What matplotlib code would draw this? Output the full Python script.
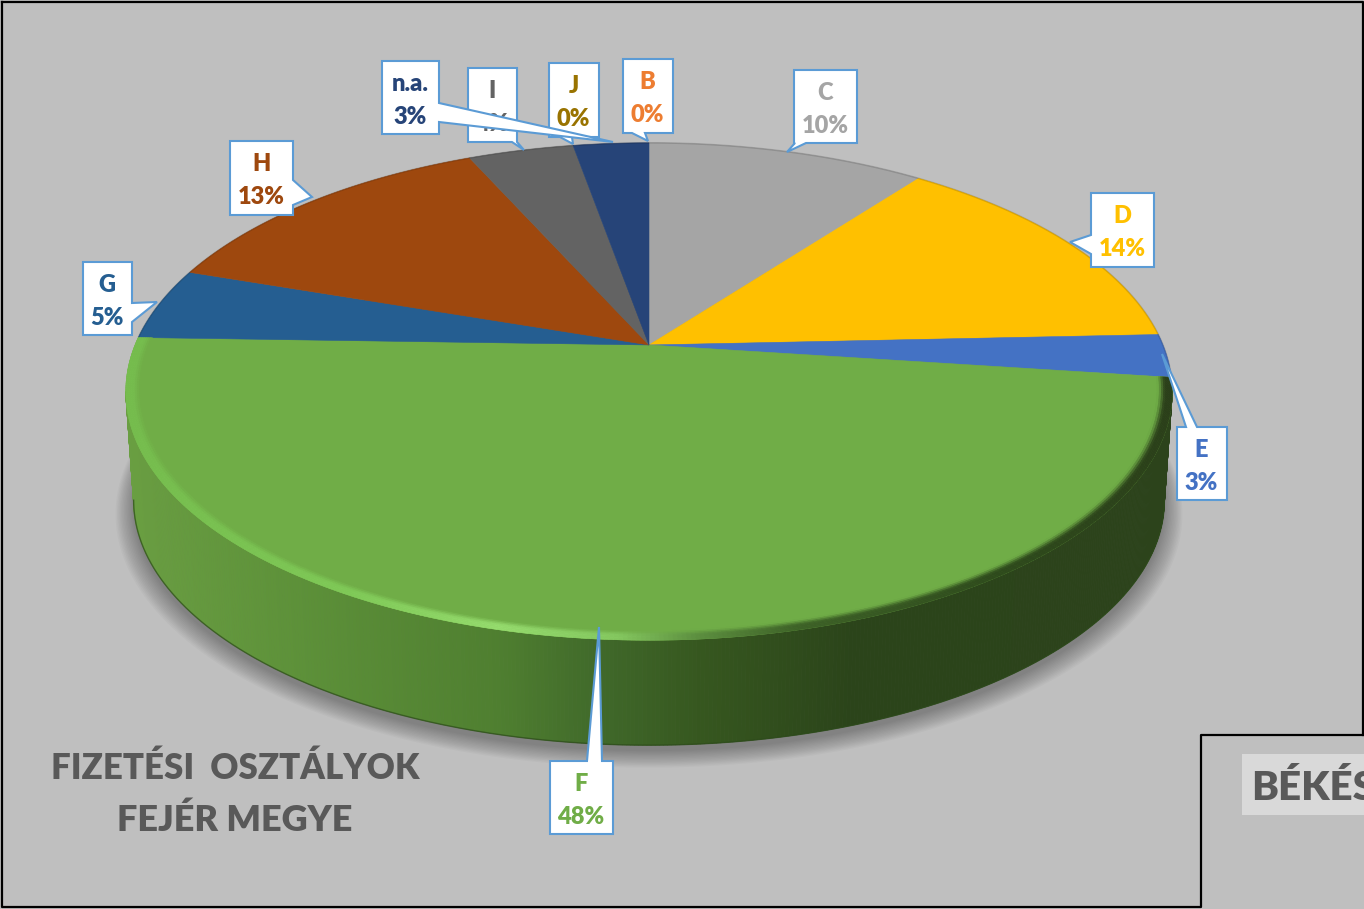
import numpy as np
import matplotlib
matplotlib.use("Agg")
import matplotlib.pyplot as plt
from matplotlib.collections import PolyCollection
from matplotlib.colors import to_rgb
from matplotlib.patches import Polygon, Rectangle

# ---- data (clockwise from 12 o'clock) ----
categories = ["B", "C", "D", "E", "F", "G", "H", "I", "J", "n.a."]
shares = [0.0, 10.3, 14.0, 2.8, 48.4, 4.7, 13.1, 3.9, 0.0, 2.8]
slice_colors = ["#ed7d31", "#a5a5a5", "#ffc000", "#4472c4", "#70ad47",
                "#255e91", "#9e480e", "#636363", "#997300", "#264478"]
title_lines = ["FIZETÉSI  OSZTÁLYOK", "FEJÉR MEGYE"]
side_label = "BÉKÉS"

# ---- layout: label box (x0, y0, x1, y1), side of the tail, tail base, tail tip ----
callouts = {
    "B": ((623, 59, 673, 133), "bottom", (645, 632), (648, 141)),
    "C": ((794, 70, 857, 143), "bottom", (806, 795), (787, 152)),
    "D": ((1091, 193, 1154, 267), "left", (254, 235), (1070, 242)),
    "E": ((1177, 427, 1227, 500), "top", (1186, 1197), (1162, 354)),
    "F": ((550, 761, 613, 834), "top", (587, 602), (599, 627)),
    "G": ((83, 262, 132, 335), "right", (303, 322), (157, 302)),
    "H": ((230, 141, 293, 215), "right", (180, 205), (312, 197)),
    "I": ((468, 68, 517, 142), "bottom", (517, 512), (524, 150)),
    "J": ((549, 63, 599, 137), "bottom", (572, 560), (573, 144)),
    "n.a.": ((382, 61, 439, 134), "right", (103, 122), (613, 142)),
}
BG = "#bfbfbf"
FONT = "Lato"
CX, CY, A, B, K = 649.0, 345.0, 514.0, 240.0, 0.187
DEPTH, LOWER_SCALE = 109.4, 0.985


def project(theta, r=1.0, scale=1.0, dy=0.0):
    """Perspective view of a point on the pie disc; theta clockwise from top."""
    X, Y = r * np.sin(theta), r * np.cos(theta)
    w = 1 + K * Y
    return CX + scale * A * X / w, CY + dy + scale * B * (-Y) / w


def ramp(x, stops):
    xs = [s[0] for s in stops]
    cols = np.array([to_rgb(s[1]) for s in stops])
    return np.array([np.interp(x, xs, cols[:, i]) for i in range(3)]).T


side_stops = [(127, "#6a9f42"), (300, "#5d9139"), (500, "#4f7f30"), (600, "#40692a"),
              (700, "#36571f"), (850, "#2b441a"), (1170, "#2c431b")]
rim_stops = [(130, "#76bd4e"), (350, "#80ca58"), (500, "#96dc6e"), (620, "#85c860"),
             (700, "#5c8e3f"), (800, "#3d6127"), (1000, "#2e4a1c"), (1170, "#2b3f1a")]

fig = plt.figure(figsize=(13.64, 9.09), dpi=100, facecolor=BG)
ax = fig.add_axes([0, 0, 1, 1])
ax.set_xlim(0, 1364)
ax.set_ylim(909, 0)
ax.axis("off")

fractions = np.array(shares) / sum(shares)
edges = np.concatenate([[0], np.cumsum(fractions)]) * 2 * np.pi
f_idx = categories.index("F")

# soft shadow under the disc
tt = np.linspace(0, 2 * np.pi, 361)
for grow in np.linspace(1.035, 1.0, 14):
    sx, sy = project(tt, 1.0, LOWER_SCALE * grow, DEPTH + 6)
    ax.fill(sx, sy + (grow - 1) * 180, color="black", alpha=0.022, lw=0, zorder=1)

# side wall: only the part of the rim that faces the viewer
tangent = np.arccos(-K)
th_wall = np.linspace(tangent, 2 * np.pi - tangent, 420)
x_top, y_top = project(th_wall)
x_low, y_low = project(th_wall, 1.0, LOWER_SCALE, DEPTH)
quads = [[(x_top[i], y_top[i]), (x_top[i + 1], y_top[i + 1]),
          (x_low[i + 1], y_low[i + 1]), (x_low[i], y_low[i])] for i in range(len(th_wall) - 1)]
cols = ramp((x_low[:-1] + x_low[1:]) / 2, side_stops)
ax.add_collection(PolyCollection(quads, facecolors=cols, edgecolors=cols, linewidths=0.5, zorder=2))
ax.plot(x_low, y_low, color="#2c4a1a", lw=1.0, alpha=0.7, zorder=2.5)

# top faces
for i, c in enumerate(slice_colors):
    if shares[i] == 0:
        continue
    t = np.linspace(edges[i], edges[i + 1], 200)
    sx, sy = project(t)
    ax.fill(np.r_[CX, sx], np.r_[CY, sy], color=c, lw=0.4, zorder=3)
    if i != f_idx:
        ax.plot(sx, sy, color="black", alpha=0.14, lw=1.2, zorder=3.2, solid_capstyle="butt")

# bevel on the front rim
th = np.linspace(edges[f_idx], edges[f_idx + 1], 420)
base = np.array(to_rgb(slice_colors[f_idx]))
R0, R1 = 0.972, 1.0
radii = np.linspace(R0, R1, 8)
bev_q, bev_c = [], []
for r0, r1 in zip(radii[:-1], radii[1:]):
    xa, ya = project(th, r0)
    xb, yb = project(th, r1)
    rm = (r0 + r1) / 2
    w = np.clip((rm - R0) / 0.017, 0, 1)
    w = w * w * (3 - 2 * w)
    rc = ramp((xa + xb) / 2, rim_stops)
    for j in range(len(th) - 1):
        bev_q.append([(xa[j], ya[j]), (xa[j + 1], ya[j + 1]), (xb[j + 1], yb[j + 1]), (xb[j], yb[j])])
        bev_c.append(base * (1 - w) + rc[j] * w)
ax.add_collection(PolyCollection(bev_q, facecolors=bev_c, edgecolors=bev_c, linewidths=0.4, zorder=3.5))


# callouts
def callout_path(box, side, base_pts, tip):
    x0, y0, x1, y1 = box
    a, b = base_pts
    top = [(min(a, b), y0), tip, (max(a, b), y0)] if side == "top" else []
    right = [(x1, min(a, b)), tip, (x1, max(a, b))] if side == "right" else []
    bottom = [(max(a, b), y1), tip, (min(a, b), y1)] if side == "bottom" else []
    left = [(x0, max(a, b)), tip, (x0, min(a, b))] if side == "left" else []
    return [(x0, y0)] + top + [(x1, y0)] + right + [(x1, y1)] + bottom + [(x0, y1)] + left


for i, (name, share, color) in enumerate(zip(categories, shares, slice_colors)):
    box, side, base_pts, tip = callouts[name]
    z = 5 + i * 0.1
    ax.add_patch(Polygon(callout_path(box, side, base_pts, tip), closed=True, facecolor="white",
                         edgecolor="#5b9bd5", lw=1.5, joinstyle="miter", zorder=z))
    xc = (box[0] + box[2]) / 2
    kw = dict(ha="center", va="center", color=color, fontweight="heavy", family=FONT,
              fontsize=17, zorder=z)
    ax.text(xc - 0.5, box[1] + 23, name, **kw)
    ax.text(xc - 0.5, box[1] + 56, f"{share:.0f}%", **kw)

# captions
for line, yy, fs in zip(title_lines, (768, 820), (25, 26)):
    ax.text(235, yy, line, ha="center", va="center", color="#595959", fontweight="heavy",
            family=FONT, fontsize=fs, zorder=6)
ax.add_patch(Rectangle((1242, 754), 122, 61, facecolor="#d9d9d9", edgecolor="none", zorder=6))
ax.text(1251, 788, side_label, ha="left", va="center", color="#595959", fontweight="heavy",
        family=FONT, fontsize=29, zorder=7, clip_on=True)

# frame
ax.plot([1.5, 1362.5, 1362.5], [1.5, 1.5, 735], color="black", lw=1.6, zorder=8)
ax.plot([1.5, 1.5, 1201, 1201, 1364], [1.5, 907, 907, 735, 735], color="black", lw=1.6, zorder=8)

fig.savefig("out.png", dpi=100, facecolor=BG)
